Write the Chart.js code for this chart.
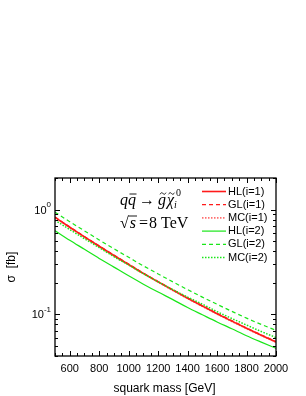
<!DOCTYPE html>
<html>
<head>
<meta charset="utf-8">
<script src="https://cdn.jsdelivr.net/npm/chart.js@4.4.0/dist/chart.umd.min.js"></script>
<style>
  html, body { margin: 0; padding: 0; background: #fff; }
  #mychart { display: block; }
</style>
</head>
<body>
<canvas id="mychart" width="306" height="396"></canvas>
<script>
// squark mass [GeV]
const masses = [500, 600, 700, 800, 900, 1000, 1100, 1200, 1300, 1400, 1500, 1600, 1700, 1800, 1900, 2000];

// sigma [fb]
const hl1 = [0.843, 0.678, 0.549, 0.446, 0.364, 0.299, 0.246, 0.204, 0.170, 0.1425, 0.120, 0.1013, 0.0861, 0.0735, 0.0631, 0.0545];
const gl1 = [0.848, 0.684, 0.553, 0.450, 0.368, 0.302, 0.248, 0.206, 0.172, 0.144, 0.121, 0.1023, 0.0870, 0.0742, 0.0637, 0.0550];
const mc1 = [0.836, 0.674, 0.545, 0.443, 0.361, 0.297, 0.244, 0.203, 0.169, 0.1415, 0.119, 0.1006, 0.0855, 0.0730, 0.0627, 0.0542];
const hl2 = [0.628, 0.509, 0.417, 0.341, 0.282, 0.233, 0.194, 0.163, 0.138, 0.116, 0.099, 0.0846, 0.0728, 0.0625, 0.0543, 0.0474];
const gl2 = [0.944, 0.766, 0.626, 0.513, 0.422, 0.350, 0.290, 0.243, 0.204, 0.172, 0.146, 0.1246, 0.1068, 0.0919, 0.0801, 0.0703];
const mc2 = [0.792, 0.644, 0.527, 0.433, 0.355, 0.295, 0.244, 0.204, 0.172, 0.146, 0.125, 0.106, 0.0913, 0.0790, 0.0685, 0.0600];

const xTickLabels = ['600', '800', '1000', '1200', '1400', '1600', '1800', '2000'];
const yTickLabels = [{base: '10', exp: '0', value: 1}, {base: '10', exp: '-1', value: 0.1}];

const RED = '#ff1a1a';
const PINK = '#ff7070';
const GREEN = '#19e619';

function pts(arr) {
  return masses.map((m, i) => ({x: m, y: arr[i]}));
}

function line(label, arr, color, dash, width) {
  return {
    label: label,
    data: pts(arr),
    borderColor: color,
    borderWidth: width,
    borderDash: dash,
    pointRadius: 0,
    fill: false,
    tension: 0.4,
    cubicInterpolationMode: 'monotone'
  };
}

const data = {
  datasets: [
    line('HL(i=2)', hl2, GREEN, [], 1.2),
    line('GL(i=2)', gl2, GREEN, [4, 3], 1.2),
    line('MC(i=2)', mc2, GREEN, [1.5, 1.5], 1.5),
    line('HL(i=1)', hl1, RED, [], 1.6),
    line('GL(i=1)', gl1, RED, [4, 3], 1.2),
    line('MC(i=1)', mc1, PINK, [1.5, 1.5], 1.6)
  ]
};

const legendOrder = ['HL(i=1)', 'GL(i=1)', 'MC(i=1)', 'HL(i=2)', 'GL(i=2)', 'MC(i=2)'];

function tilde(ctx, x, y, w) {
  ctx.beginPath();
  ctx.moveTo(x, y + 0.8);
  ctx.bezierCurveTo(x + w * 0.25, y - 1.8, x + w * 0.45, y - 0.5, x + w * 0.5, y);
  ctx.bezierCurveTo(x + w * 0.55, y + 0.5, x + w * 0.75, y + 1.8, x + w, y - 0.8);
  ctx.stroke();
}

// frame, inward ticks, labels, legend and the process text
const decorations = {
  id: 'decorations',
  afterDraw(chart) {
    const ctx = chart.ctx;
    const a = chart.chartArea;
    const xs = chart.scales.x;
    const ys = chart.scales.y;
    ctx.save();
    ctx.strokeStyle = '#000';
    ctx.fillStyle = '#000';
    ctx.lineWidth = 1;

    // x ticks
    for (let v = 500; v <= 2000; v += 50) {
      const px = Math.round(xs.getPixelForValue(v)) + 0.5;
      const len = v % 200 === 0 ? 5 : 3;
      ctx.beginPath();
      ctx.moveTo(px, a.bottom); ctx.lineTo(px, a.bottom - len);
      ctx.moveTo(px, a.top); ctx.lineTo(px, a.top + len);
      ctx.stroke();
    }
    // y ticks
    for (let d = -2; d <= 0; d++) {
      for (let k = 1; k <= 9; k++) {
        const v = k * Math.pow(10, d);
        if (v < ys.min || v > ys.max) continue;
        const py = Math.round(ys.getPixelForValue(v)) + 0.5;
        const len = k === 1 ? 5 : 3;
        ctx.beginPath();
        ctx.moveTo(a.left, py); ctx.lineTo(a.left + len, py);
        ctx.moveTo(a.right, py); ctx.lineTo(a.right - len, py);
        ctx.stroke();
      }
    }
    // frame
    ctx.lineWidth = 1.3;
    ctx.strokeRect(a.left, a.top, a.right - a.left, a.bottom - a.top);

    // x tick labels
    ctx.font = '11px "Liberation Sans", Arial, sans-serif';
    ctx.textAlign = 'center';
    ctx.textBaseline = 'middle';
    xTickLabels.forEach(t => {
      ctx.fillText(t, xs.getPixelForValue(Number(t)), a.bottom + 13);
    });
    // y tick labels
    yTickLabels.forEach(t => {
      const py = ys.getPixelForValue(t.value);
      ctx.font = '8px "Liberation Sans", Arial, sans-serif';
      const we = ctx.measureText(t.exp).width;
      ctx.textAlign = 'right';
      ctx.fillText(t.exp, a.left - 4, py - 5);
      ctx.font = '11px "Liberation Sans", Arial, sans-serif';
      ctx.fillText(t.base, a.left - 4 - we, py + 1);
    });
    // axis titles
    ctx.font = '12px "Liberation Sans", Arial, sans-serif';
    ctx.textAlign = 'center';
    ctx.fillText('squark mass [GeV]', (a.left + a.right) / 2 - 1, a.bottom + 33);
    ctx.save();
    ctx.translate(12, (a.top + a.bottom) / 2);
    ctx.rotate(-Math.PI / 2);
    ctx.fillText('\u03c3  [fb]', 0, 0);
    ctx.restore();

    // legend
    ctx.font = '11px "Liberation Sans", Arial, sans-serif';
    ctx.textAlign = 'left';
    legendOrder.forEach((name, i) => {
      const ds = chart.data.datasets.find(s => s.label === name);
      const y = a.top + 13.5 + i * 13.2;
      ctx.save();
      ctx.strokeStyle = ds.borderColor;
      ctx.lineWidth = ds.borderWidth;
      ctx.setLineDash(ds.borderDash);
      ctx.beginPath();
      ctx.moveTo(a.left + 147, y); ctx.lineTo(a.left + 171, y);
      ctx.stroke();
      ctx.restore();
      ctx.fillText(name, a.left + 173, y);
    });

    // process text
    ctx.textBaseline = 'alphabetic';
    const it = 'italic 16px "Liberation Serif", "Times New Roman", serif';
    const up = '16px "Liberation Serif", "Times New Roman", serif';
    let x = a.left + 65;
    let b = a.top + 27;
    ctx.font = it;
    ctx.fillText('q', x, b); x += ctx.measureText('q').width;
    const wq = ctx.measureText('q').width;
    ctx.fillText('q', x, b);
    ctx.lineWidth = 0.9;
    ctx.beginPath(); ctx.moveTo(x + 1.5, b - 11); ctx.lineTo(x + wq + 0.5, b - 11); ctx.stroke();
    x += wq + 3;
    ctx.font = up;
    ctx.fillText('\u2192', x, b); x += ctx.measureText('\u2192').width + 3;
    ctx.font = it;
    ctx.fillText('g', x, b);
    const wg = ctx.measureText('g').width;
    tilde(ctx, x + 2, b - 11.5, 6);
    x += wg + 1;
    ctx.font = it;
    ctx.fillText('\u03c7', x, b);
    const wc = ctx.measureText('\u03c7').width;
    tilde(ctx, x + 1.5, b - 11.5, 6);
    x += wc;
    ctx.font = '10px "Liberation Serif", serif';
    ctx.fillText('0', x + 2, b - 9);
    ctx.font = 'italic 10px "Liberation Serif", serif';
    ctx.fillText('i', x, b + 3);

    x = a.left + 65;
    b = a.top + 50;
    ctx.font = up;
    ctx.fillText('\u221a', x, b);
    x += ctx.measureText('\u221a').width;
    ctx.font = it;
    const ws = ctx.measureText('s').width;
    ctx.fillText('s', x + 1, b);
    ctx.beginPath(); ctx.moveTo(x - 0.5, b - 12); ctx.lineTo(x + ws + 2, b - 12); ctx.stroke();
    x += ws + 4;
    ctx.font = up;
    ctx.fillText('=', x, b);
    x += ctx.measureText('=').width + 1;
    ctx.fillText('8 TeV', x, b);

    ctx.restore();
  }
};

const config = {
  type: 'line',
  data: data,
  options: {
    responsive: false,
    animation: false,
    devicePixelRatio: 1,
    layout: {padding: {left: 55, right: 30, top: 178, bottom: 40}},
    plugins: {legend: {display: false}, tooltip: {enabled: false}},
    scales: {
      x: {
        type: 'linear', min: 500, max: 2000,
        grid: {display: false}, border: {display: false},
        ticks: {display: false},
        afterFit(s) { s.height = 0; }
      },
      y: {
        type: 'logarithmic', min: 0.04, max: 2,
        grid: {display: false}, border: {display: false},
        ticks: {display: false},
        afterFit(s) { s.width = 0; }
      }
    }
  },
  plugins: [decorations]
};

const myChart = new Chart(document.querySelector('#mychart'), config);
</script>
</body>
</html>
